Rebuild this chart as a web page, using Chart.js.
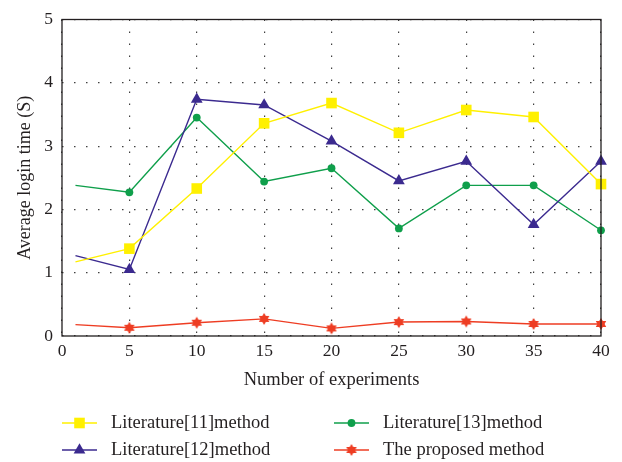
<!DOCTYPE html>
<html>
<head>
<meta charset="utf-8">
<script src="https://cdn.jsdelivr.net/npm/chart.js@4.4.1/dist/chart.umd.min.js"></script>
<style>
  html, body { margin: 0; padding: 0; background: #fff; }
  #wrap { width: 622px; height: 462px; }
</style>
</head>
<body>
<div id="wrap"><canvas id="myChart"></canvas></div>
<script>
// datos
const experiments = [1, 5, 10, 15, 20, 25, 30, 35, 40];
const lit11 = [1.17, 1.38, 2.33, 3.36, 3.68, 3.21, 3.57, 3.46, 2.40];
const lit12 = [1.27, 1.05, 3.74, 3.65, 3.08, 2.45, 2.76, 1.76, 2.76];
const lit13 = [2.38, 2.27, 3.45, 2.44, 2.65, 1.70, 2.38, 2.38, 1.67];
const proposed = [0.18, 0.13, 0.21, 0.27, 0.12, 0.22, 0.23, 0.19, 0.19];
const xTicks = [0, 5, 10, 15, 20, 25, 30, 35, 40];
const yTicks = [0, 1, 2, 3, 4, 5];

const FONT = "'Liberation Serif', 'DejaVu Serif', serif";
const TEXT = '#231f20';

// estrella de seis puntas para el metodo propuesto
function makeStar(color, r) {
    const size = Math.ceil(r * 2 + 2);
    const c = document.createElement('canvas');
    c.width = size; c.height = size;
    const g = c.getContext('2d');
    const cx = size / 2, cy = size / 2;
    g.fillStyle = color;
    g.beginPath();
    for (let i = 0; i < 12; i++) {
        const a = -Math.PI / 2 + i * Math.PI / 6;
        const rr = i % 2 === 0 ? r : r * 0.6;
        const px = cx + rr * Math.cos(a), py = cy + rr * Math.sin(a);
        if (i === 0) g.moveTo(px, py); else g.lineTo(px, py);
    }
    g.closePath();
    g.fill();
    return c;
}
const starImg = makeStar('#ee3d23', 6);

function pts(values) {
    return experiments.map((x, i) => ({ x: x, y: values[i] }));
}
// el primer punto (x=1) no lleva marcador
function radii(r) {
    return experiments.map((x, i) => i === 0 ? 0 : r);
}

const datasets = [
    { label: 'Literature[11]method', data: pts(lit11), borderColor: '#fff000', backgroundColor: '#fff000',
      pointStyle: 'rect', pointRadius: radii(7.5), legendCol: 0, legendRow: 0 },
    { label: 'Literature[12]method', data: pts(lit12), borderColor: '#3b2a8f', backgroundColor: '#3b2a8f',
      pointStyle: 'triangle', pointRadius: radii(6.8), legendCol: 0, legendRow: 1 },
    { label: 'Literature[13]method', data: pts(lit13), borderColor: '#0f9f4b', backgroundColor: '#0f9f4b',
      pointStyle: 'circle', pointRadius: radii(3.9), legendCol: 1, legendRow: 0 },
    { label: 'The proposed method', data: pts(proposed), borderColor: '#ee3d23', backgroundColor: '#ee3d23',
      pointStyle: starImg, pointRadius: radii(6), legendCol: 1, legendRow: 1 }
];
datasets.forEach(d => {
    d.borderWidth = 1.4;
    d.pointBorderWidth = 0;
    d.pointHoverRadius = 0;
    d.tension = 0;
    d.fill = false;
    d.clip = false;
});

// marco completo y leyenda en dos columnas
const framePlugin = {
    id: 'frame',
    afterDatasetsDraw(chart) {
        const { ctx, chartArea: a } = chart;
        ctx.save();
        ctx.strokeStyle = '#231f20';
        ctx.lineWidth = 1.3;
        ctx.strokeRect(a.left, a.top, a.right - a.left, a.bottom - a.top);
        ctx.restore();
    },
    afterDraw(chart) {
        const ctx = chart.ctx;
        const cols = [{ x0: 62, x1: 97, tx: 111 }, { x0: 334, x1: 369, tx: 383 }];
        const rows = [423, 450];
        ctx.save();
        chart.data.datasets.forEach(d => {
            const c = cols[d.legendCol];
            const y = rows[d.legendRow];
            ctx.strokeStyle = d.borderColor;
            ctx.lineWidth = 1.4;
            ctx.beginPath();
            ctx.moveTo(c.x0, y);
            ctx.lineTo(c.x1, y);
            ctx.stroke();
            ctx.fillStyle = d.backgroundColor;
            ctx.strokeStyle = d.borderColor;
            const mx = (c.x0 + c.x1) / 2;
            if (d.pointStyle instanceof HTMLCanvasElement) {
                ctx.drawImage(d.pointStyle, mx - d.pointStyle.width / 2, y - d.pointStyle.height / 2);
            } else {
                Chart.helpers.drawPoint(ctx, { pointStyle: d.pointStyle, radius: d.pointRadius[1], rotation: 0, borderWidth: 0 }, mx, y);
            }
            ctx.fillStyle = TEXT;
            ctx.font = '18.5px ' + FONT;
            ctx.textAlign = 'left';
            ctx.textBaseline = 'middle';
            ctx.fillText(d.label, c.tx, y);
        });
        ctx.restore();
    }
};

const gridStyle = {
    color: 'rgba(0,0,0,0.75)',
    lineWidth: 1.2,
    drawTicks: false
};

new Chart(document.getElementById('myChart'), {
    type: 'line',
    data: { datasets: datasets },
    options: {
        responsive: true,
        maintainAspectRatio: false,
        animation: false,
        devicePixelRatio: 1,
        layout: { padding: { left: 10, top: 11, right: 21, bottom: 67 } },
        plugins: { legend: { display: false }, tooltip: { enabled: false } },
        scales: {
            x: {
                type: 'linear',
                min: 0,
                max: 40,
                afterBuildTicks: s => { s.ticks = xTicks.map(v => ({ value: v })); },
                afterFit: s => { s.height = 59; },
                grid: gridStyle,
                border: { display: false, dash: [1.5, 10.5] },
                ticks: { color: TEXT, font: { family: FONT, size: 17.5 }, padding: 5, maxRotation: 0 },
                title: { display: true, text: 'Number of experiments', color: TEXT,
                         font: { family: FONT, size: 18.5 }, padding: { top: 4, bottom: 4 } }
            },
            y: {
                min: 0,
                max: 5,
                afterBuildTicks: s => { s.ticks = yTicks.map(v => ({ value: v })); },
                afterFit: s => { s.width = 52; },
                grid: gridStyle,
                border: { display: false, dash: [1.5, 10.5] },
                ticks: { color: TEXT, font: { family: FONT, size: 17.5 }, padding: 9 },
                title: { display: true, text: 'Average login time (S)', color: TEXT,
                         font: { family: FONT, size: 18 }, padding: { top: 4, bottom: 4 } }
            }
        }
    },
    plugins: [framePlugin]
});
</script>
</body>
</html>
